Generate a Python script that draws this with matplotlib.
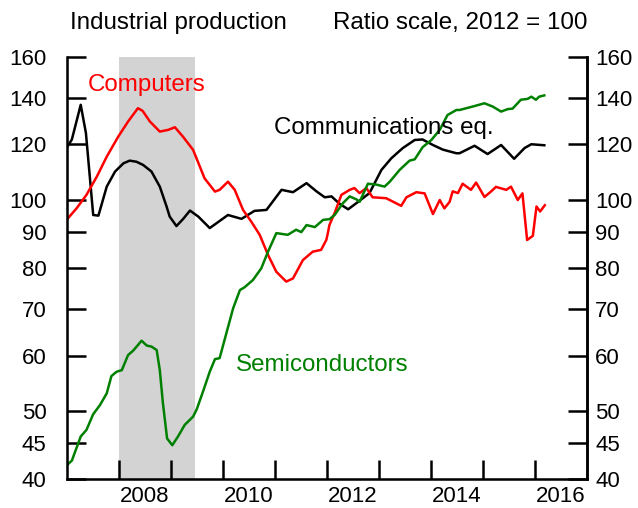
import matplotlib
matplotlib.use("Agg")
import matplotlib.pyplot as plt
from matplotlib.ticker import FixedLocator, NullFormatter, FixedFormatter

plt.rcParams["font.family"] = ["Liberation Sans", "DejaVu Sans"]

# Communications equipment (black)
comm_years = [2007.01, 2007.10, 2007.27, 2007.37, 2007.51, 2007.61, 2007.77, 2007.93,
              2008.09, 2008.21, 2008.34, 2008.47, 2008.63, 2008.79, 2008.92, 2008.98,
              2009.11, 2009.24, 2009.37,
              2009.53, 2009.75, 2010.10, 2010.36, 2010.61, 2010.84, 2011.13, 2011.35,
              2011.61, 2011.80, 2011.96, 2012.09, 2012.25, 2012.41, 2012.57, 2012.82,
              2013.05, 2013.24, 2013.46, 2013.69, 2013.84, 2014.04, 2014.23, 2014.49,
              2014.55, 2014.84, 2015.09, 2015.35, 2015.60, 2015.80, 2015.93, 2016.18]
comm_vals = [119, 122, 136.7, 124.6, 95.2, 95, 104.5, 109.8,
             112.8, 113.8, 113.4, 112.2, 109.8, 104.5, 97.9, 94.7,
             91.8, 94, 96.6,
             94.7, 91.2, 95.2, 94, 96.5, 96.8, 103.4, 102.6,
             105.7, 102.9, 100.9, 101.2, 98.7, 97, 99, 102.3,
             110.4, 114.7, 118.6, 121.8, 122, 119.8, 118, 116.6,
             116.6, 119.5, 116.3, 119.8, 114.5, 118.6, 120.1, 119.7]

# Computers (red)
comp_years = [2007.01, 2007.19, 2007.38, 2007.58, 2007.77, 2007.99, 2008.18, 2008.37,
              2008.46, 2008.60, 2008.79, 2008.95, 2009.08, 2009.24, 2009.43,
              2009.65, 2009.85, 2009.94, 2010.10, 2010.23, 2010.39, 2010.55, 2010.71,
              2010.87, 2011.03, 2011.22, 2011.35, 2011.54, 2011.73, 2011.89, 2011.99,
              2012.02, 2012.05, 2012.15, 2012.28, 2012.44, 2012.53, 2012.63, 2012.76,
              2012.88, 2013.14, 2013.43, 2013.53, 2013.72, 2013.88, 2014.04, 2014.17,
              2014.26, 2014.36, 2014.42, 2014.52, 2014.61, 2014.77, 2014.87, 2015.03,
              2015.16, 2015.25, 2015.45, 2015.54, 2015.67, 2015.76, 2015.85, 2015.96,
              2016.03, 2016.10, 2016.19]
comp_vals = [93.9, 97.3, 101.7, 108, 115.3, 123.1, 129.4, 135.2,
             134, 129.4, 125.2, 125.9, 127, 123, 117.9,
             107.4, 102.8, 103.4, 106.2, 103.4, 96.8, 93.1, 89.2,
             83.5, 79, 76.5, 77.3, 82.1, 84.4, 84.9, 87.7,
             89.7, 92.1, 95.8, 101.7, 103.4, 104, 102.3, 104,
             100.9, 100.6, 98.1, 100.9, 102.6, 102.2, 95.5, 100,
             97.3, 99.4, 102.9, 102.3, 105.5, 103.4, 105.9, 101,
             102.9, 104.4, 103.4, 104.5, 100, 102.2, 87.7, 88.9,
             97.9, 96.3, 98.3]

# Semiconductors (green)
semi_years = [2007.01, 2007.10, 2007.27, 2007.38, 2007.51, 2007.64, 2007.77, 2007.86,
              2007.96, 2008.06, 2008.18, 2008.28, 2008.44, 2008.54, 2008.63, 2008.73,
              2008.79, 2008.85, 2008.93, 2009.03, 2009.14, 2009.27, 2009.43, 2009.50,
              2009.62, 2009.75, 2009.85, 2009.94, 2010.07, 2010.20, 2010.33, 2010.42,
              2010.58, 2010.74, 2010.87, 2011.03, 2011.25, 2011.41, 2011.51, 2011.61,
              2011.77, 2011.93, 2012.05, 2012.15, 2012.31, 2012.44, 2012.57, 2012.63,
              2012.79, 2012.95, 2013.11, 2013.21, 2013.40, 2013.59, 2013.69, 2013.84,
              2014.01, 2014.17, 2014.32, 2014.49, 2014.55, 2014.80, 2015.03, 2015.19,
              2015.35, 2015.48, 2015.57, 2015.73, 2015.86, 2015.93, 2016.02, 2016.08,
              2016.18]
semi_vals = [41.9, 42.5, 46, 47, 49.5, 51, 53, 56.1,
             56.9, 57.2, 60.1, 61, 63, 62, 61.8, 61.1,
             57.2, 51.3, 45.7, 44.7, 46, 47.8, 49.1, 50.3,
             53.3, 56.9, 59.3, 59.5, 64.6, 70.1, 74.4, 75.1,
             76.9, 79.9, 84.4, 89.7, 89.2, 90.7, 90, 92.1,
             91.5, 93.7, 93.9, 95.2, 99, 101.2, 100.2, 99.4,
             105.5, 105.2, 104.5, 106.2, 110.4, 113.8, 114.3, 118.9,
             121.8, 125.9, 132.2, 134.4, 134.4, 135.9, 137.4, 135.9,
             133.7, 134.8, 135, 139, 139.4, 140.4, 139, 140.4,
             141]

recession = (2008.0, 2009.46)
y_ticks = [40, 45, 50, 60, 70, 80, 90, 100, 120, 140, 160]
year_ticks = list(range(2008, 2017))
year_label_pos = [2008.5, 2010.5, 2012.5, 2014.5, 2016.5]
year_labels = ["2008", "2010", "2012", "2014", "2016"]

fig = plt.figure(figsize=(6.38, 5.08), dpi=100)
ax = fig.add_axes([0.1045, 0.057, 0.8155, 0.831])

ax.axvspan(*recession, color="#d3d3d3", lw=0)
ax.plot(comm_years, comm_vals, color="black", lw=1.8)
ax.plot(comp_years, comp_vals, color="#ff0000", lw=1.8)
ax.plot(semi_years, semi_vals, color="#008000", lw=1.8)

ax.set_yscale("log")
ax.set_ylim(40, 160)
ax.set_xlim(2007.0, 2017.0)

ax.spines["top"].set_visible(False)
for side in ("left", "right", "bottom"):
    ax.spines[side].set_linewidth(1.8)

# x axis: ticks at year starts, labels mid-year
ax.xaxis.set_major_locator(FixedLocator(year_ticks))
ax.xaxis.set_major_formatter(NullFormatter())
ax.xaxis.set_minor_locator(FixedLocator(year_label_pos))
ax.xaxis.set_minor_formatter(FixedFormatter(year_labels))
ax.tick_params(axis="x", which="major", direction="in", length=14, width=1.8)
ax.tick_params(axis="x", which="minor", length=0, labelsize=16, pad=5)

# left y axis
ax.yaxis.set_major_locator(FixedLocator(y_ticks))
ax.yaxis.set_major_formatter(FixedFormatter([str(v) for v in y_ticks]))
ax.yaxis.set_minor_locator(FixedLocator([]))
ax.tick_params(axis="y", which="major", direction="in", length=14, width=1.8,
               labelsize=16, pad=14.4, right=False)

# right y axis
ax2 = ax.twinx()
ax2.set_yscale("log")
ax2.set_ylim(40, 160)
ax2.spines["top"].set_visible(False)
ax2.spines["right"].set_linewidth(1.8)
ax2.yaxis.set_major_locator(FixedLocator(y_ticks))
ax2.yaxis.set_major_formatter(FixedFormatter([str(v) for v in y_ticks]))
ax2.yaxis.set_minor_locator(FixedLocator([]))
ax2.tick_params(axis="y", which="major", direction="in", length=14, width=1.8,
                labelsize=16, pad=5.8)

# longer top tick on both sides
for t in ax.yaxis.get_major_ticks():
    if t.get_loc() == 160:
        t.tick1line.set_markersize(22)
for t in ax2.yaxis.get_major_ticks():
    if t.get_loc() == 160:
        t.tick2line.set_markersize(23)

ax.text(2007.41, 146, "Computers", color="#ff0000", fontsize=17.4, va="center", ha="left")
ax.text(2010.98, 126.7, "Communications eq.", color="black", fontsize=17.4, va="center", ha="left")
ax.text(2010.25, 58.2, "Semiconductors", color="#008000", fontsize=17.4, va="center", ha="left")

fig.text(0.110, 0.955, "Industrial production", fontsize=17.4, ha="left", va="center")
fig.text(0.920, 0.955, "Ratio scale, 2012 = 100", fontsize=17.4, ha="right", va="center")

fig.savefig("out.png", dpi=100)
